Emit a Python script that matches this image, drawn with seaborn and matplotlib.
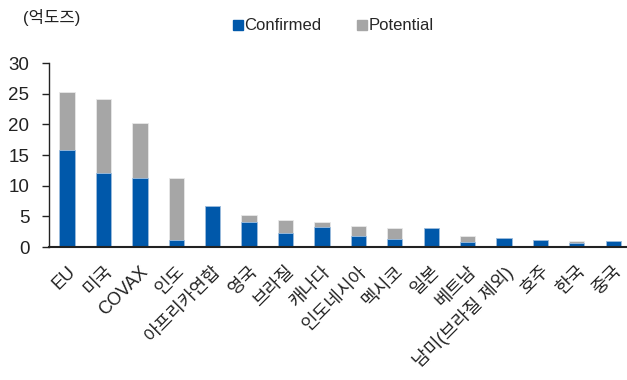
import matplotlib
matplotlib.use("Agg")
import matplotlib.pyplot as plt
from matplotlib.lines import Line2D
import seaborn as sns
import pandas as pd

categories = ["EU", "미국", "COVAX", "인도", "아프리카연합", "영국", "브라질", "캐나다",
              "인도네시아", "멕시코", "일본", "베트남", "남미(브라질 제외)", "호주", "한국", "중국"]
confirmed = [15.8, 12.1, 11.2, 1.15, 6.7, 4.1, 2.3, 3.3, 1.8, 1.35, 3.1, 0.8, 1.45, 1.15, 0.6, 0.95]
potential = [9.5, 12.0, 9.1, 10.05, 0.0, 1.1, 2.05, 0.7, 1.6, 1.8, 0.0, 0.95, 0.0, 0.0, 0.45, 0.0]

total = [c + p for c, p in zip(confirmed, potential)]
df = pd.DataFrame({"cat": categories, "confirmed": confirmed, "total": total})

sns.set_style("white")
fam = ["Liberation Sans", "Noto Sans CJK KR", "DejaVu Sans"]
plt.rcParams["font.family"] = fam

BLUE = "#0058AA"
GREY = "#A6A6A6"

fig = plt.figure(figsize=(6.27, 3.8), dpi=100)
ax = fig.add_axes([0.078, 0.35, 0.929, 0.484])

sns.barplot(data=df, x="cat", y="total", color=GREY, width=0.42, ax=ax,
            edgecolor="#E8E8E8", linewidth=0.6, saturation=1)
sns.barplot(data=df, x="cat", y="confirmed", color=BLUE, width=0.42, ax=ax,
            edgecolor="#9FBFE0", linewidth=0.6, saturation=1)

ax.set_xlim(-0.5, 15.5)
ax.set_ylim(0, 30)
ax.set_yticks(range(0, 31, 5))
ax.set_xlabel("")
ax.set_ylabel("")
for s in ["top", "right"]:
    ax.spines[s].set_visible(False)
ax.spines["left"].set_color("#222222")
ax.spines["left"].set_linewidth(1.0)
ax.spines["bottom"].set_color("#222222")
ax.spines["bottom"].set_linewidth(1.5)

ax.tick_params(axis="y", which="major", left=True, length=5, width=1, color="#222222",
               labelsize=13.5, pad=9, labelcolor="#222222")
ax.tick_params(axis="x", bottom=False, labelsize=13, pad=8, labelcolor="#222222")
ax.set_xticks(range(len(categories)))
ax.set_xticklabels(categories, rotation=45, ha="right", rotation_mode="anchor")

fig.text(0.037, 0.955, "(억도즈)", fontsize=12, va="center", ha="left", color="#222222")

handles = [
    Line2D([], [], marker="s", linestyle="none", markersize=7, markerfacecolor=BLUE,
           markeredgecolor=BLUE, label="Confirmed"),
    Line2D([], [], marker="s", linestyle="none", markersize=7, markerfacecolor=GREY,
           markeredgecolor=GREY, label="Potential"),
]
fig.legend(handles=handles, loc="center", bbox_to_anchor=(0.53, 0.932), ncol=2,
           frameon=False, fontsize=12, handletextpad=0.0, columnspacing=2.0,
           handlelength=0.8)

fig.savefig("out.png", dpi=100)
